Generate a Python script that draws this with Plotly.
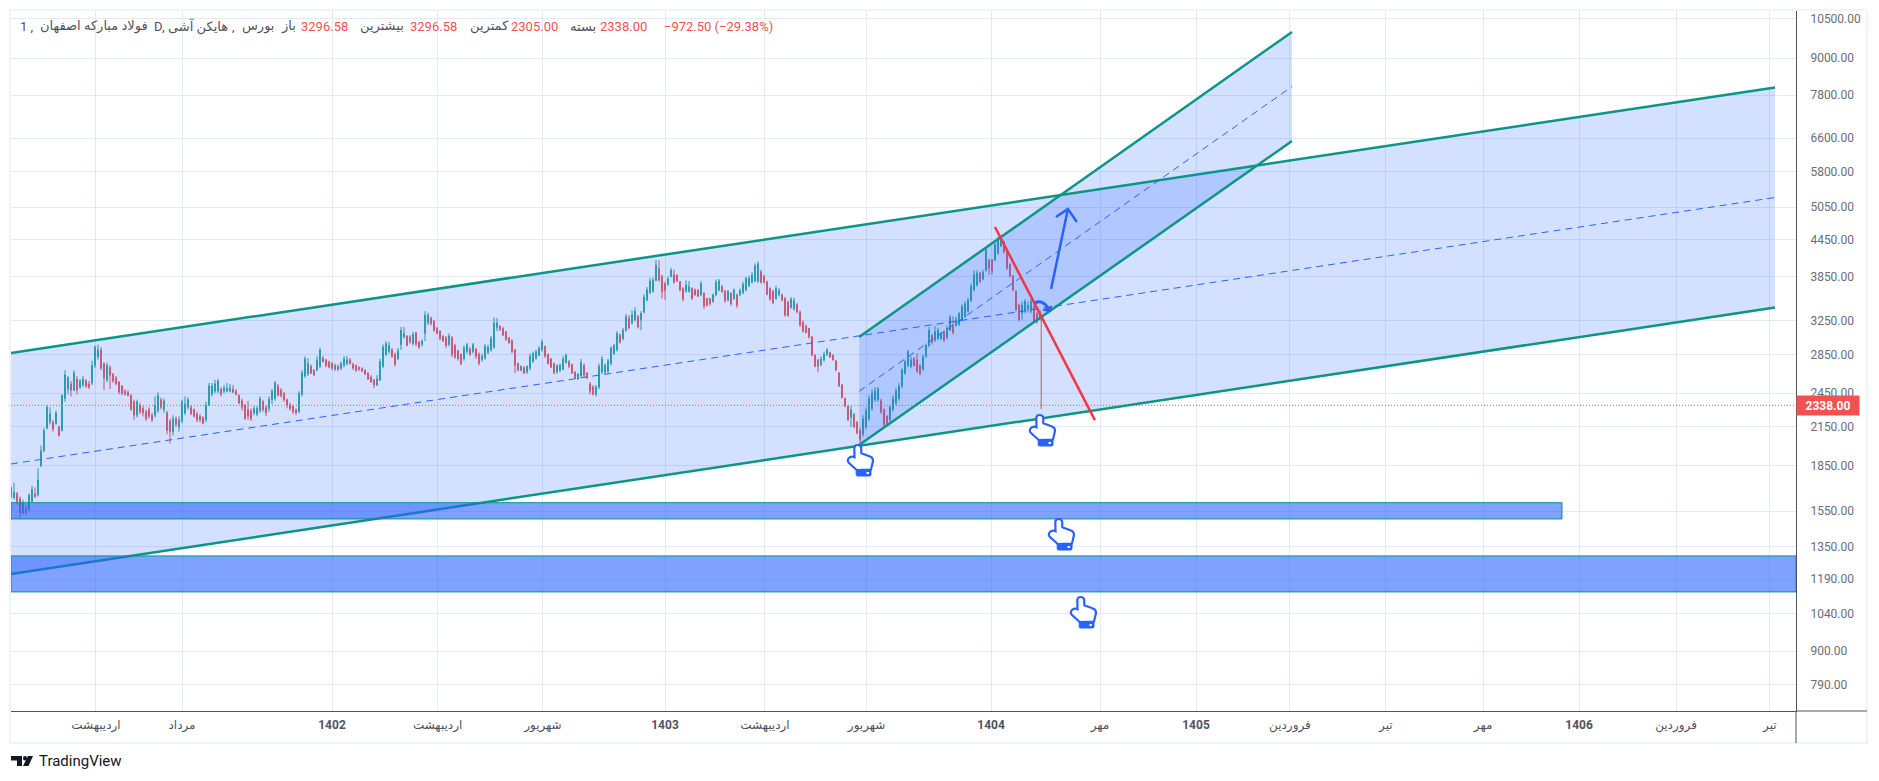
import math
import plotly.graph_objects as go

W, H = 1879, 781
L, R, T, B = 11, 1796, 11, 711

opens = [
1700,1630,1660,1630,1540,1570,1560,1610,1660,1650,
1850,1960,2140,2190,2190,2180,2150,2120,2400,2490,
2540,2480,2590,2510,2530,2570,2540,2550,2730,2820,
2900,2750,2580,2710,2640,2600,2560,2520,2470,2460,
2430,2370,2250,2340,2310,2280,2300,2250,2250,2290,
2390,2300,2270,2200,2110,2220,2150,2200,2270,2320,
2320,2300,2260,2240,2230,2210,2340,2440,2470,2470,
2490,2470,2470,2470,2490,2470,2430,2380,2340,2300,
2290,2270,2260,2290,2370,2320,2310,2390,2400,2520,
2480,2450,2390,2340,2330,2300,2280,2440,2620,2640,
2720,2680,2680,2720,2810,2790,2770,2750,2690,2720,
2700,2730,2750,2790,2740,2730,2710,2700,2680,2650,
2610,2580,2530,2580,2720,2850,2880,2900,2850,2800,
2960,3050,3060,3050,2970,3100,2990,2960,3090,3220,
3280,3240,3150,3120,3060,3040,2960,3040,2950,2890,
2850,2800,2880,2910,2880,2910,2850,2790,2810,2870,
2900,2930,3160,3180,3150,3110,3040,3010,2900,2750,
2680,2710,2660,2700,2770,2810,2840,2900,2940,2850,
2800,2750,2660,2680,2690,2760,2770,2740,2660,2590,
2620,2730,2650,2540,2510,2440,2510,2660,2660,2670,
2750,2860,2900,3070,3030,3130,3280,3220,3260,3300,
3260,3360,3520,3620,3640,3800,3980,3860,3750,3740,
3860,3880,3870,3780,3680,3640,3640,3680,3660,3660,
3590,3610,3540,3540,3500,3590,3660,3710,3640,3520,
3610,3540,3590,3590,3620,3660,3720,3770,3790,3790,
3930,3860,3780,3680,3640,3540,3590,3590,3540,3490,
3420,3400,3460,3360,3230,3180,3150,3050,2840,2790,
2740,2790,2850,2870,2840,2780,2650,2530,2400,2330,
2230,2260,2190,2120,2090,2150,2220,2310,2390,2390,
2380,2300,2240,2210,2300,2360,2400,2520,2650,2730,
2720,2800,2790,2730,2690,2830,2950,3070,3010,3030,
3030,3110,3040,3130,3180,3190,3200,3260,3300,3370,
3510,3660,3730,3910,3820,3950,4110,4110,4110,4220,
4340,4410,4240,4040,3860,3640,3450,3340,3370,3400,
3370,3430,3340,3360]
highs = [
1705,1730,1670,1640,1620,1590,1660,1710,1700,1830,
2000,2140,2340,2320,2210,2290,2160,2440,2680,2620,
2570,2680,2620,2590,2620,2590,2570,2780,2950,2960,
2930,2760,2760,2730,2650,2620,2570,2530,2490,2480,
2440,2390,2390,2360,2330,2300,2320,2270,2420,2460,
2410,2400,2290,2220,2250,2240,2240,2390,2420,2410,
2340,2310,2280,2260,2240,2370,2550,2550,2580,2590,
2510,2530,2550,2540,2530,2490,2440,2400,2350,2380,
2310,2330,2330,2420,2390,2340,2420,2490,2570,2540,
2500,2460,2400,2360,2340,2310,2470,2680,2830,2810,
2740,2690,2830,2920,2830,2800,2780,2770,2750,2740,
2770,2830,2830,2810,2760,2740,2720,2710,2690,2660,
2630,2590,2630,2800,2960,3000,2990,2920,2870,2920,
3170,3170,3070,3070,3110,3110,3000,3020,3370,3350,
3300,3260,3170,3130,3070,3060,3090,3060,2970,2900,
2860,2950,2980,2930,2980,2920,2870,2860,2970,2960,
3060,3290,3280,3190,3170,3120,3050,3020,2910,2760,
2730,2720,2730,2860,2880,2900,2940,3020,2950,2860,
2810,2760,2740,2750,2830,2860,2790,2750,2670,2650,
2800,2750,2660,2560,2530,2530,2750,2830,2750,2800,
2940,2970,3120,3090,3160,3330,3320,3380,3420,3320,
3370,3600,3700,3830,3840,4110,4110,3880,3780,3860,
3990,3960,3890,3790,3700,3800,3790,3700,3680,3670,
3790,3630,3550,3550,3610,3810,3820,3730,3660,3660,
3630,3680,3610,3680,3780,3850,3870,3920,4060,4090,
3960,3880,3790,3700,3660,3720,3690,3610,3560,3510,
3560,3550,3480,3380,3250,3200,3160,3060,2850,2800,
2830,2880,2920,2880,2850,2790,2660,2540,2410,2340,
2330,2270,2200,2140,2250,2320,2430,2490,2510,2510,
2400,2310,2250,2340,2430,2500,2550,2700,2790,2900,
2830,2820,2860,2740,2850,2970,3170,3080,3180,3160,
3110,3130,3190,3320,3300,3300,3360,3460,3500,3550,
3750,3950,3950,3930,3960,4320,4130,4130,4400,4500,
4530,4430,4260,4060,3880,3660,3470,3500,3530,3500,
3540,3480,3360,3380]
lows = [
1630,1630,1590,1505,1530,1530,1550,1600,1630,1640,
1840,1950,2130,2170,2110,2170,2070,2110,2370,2440,
2420,2470,2440,2490,2510,2500,2490,2530,2700,2790,
2680,2480,2560,2490,2550,2530,2440,2430,2430,2420,
2290,2210,2230,2260,2240,2200,2220,2190,2230,2270,
2300,2270,2090,2015,2080,2150,2110,2180,2250,2300,
2250,2230,2190,2190,2170,2190,2330,2420,2450,2450,
2420,2450,2460,2460,2450,2430,2350,2290,2210,2210,
2200,2250,2240,2270,2280,2240,2280,2350,2380,2420,
2410,2370,2310,2290,2260,2250,2270,2420,2600,2620,
2640,2620,2670,2700,2760,2710,2700,2680,2670,2670,
2680,2710,2730,2740,2680,2660,2670,2660,2630,2580,
2550,2500,2520,2570,2700,2830,2860,2810,2720,2790,
2900,3030,2940,2970,2950,2940,2910,2940,3000,3190,
3190,3110,3080,3010,2990,2920,2940,2820,2800,2780,
2730,2780,2860,2830,2860,2800,2730,2770,2790,2850,
2880,2910,3120,3120,3060,3000,2970,2860,2650,2670,
2670,2640,2640,2680,2760,2790,2830,2880,2810,2740,
2700,2640,2640,2660,2680,2750,2700,2640,2590,2580,
2610,2610,2590,2440,2430,2420,2490,2640,2640,2650,
2730,2840,2880,2970,3010,3110,3140,3200,3240,3150,
3130,3340,3500,3600,3620,3780,3780,3540,3520,3720,
3840,3750,3770,3640,3500,3620,3620,3520,3580,3560,
3570,3400,3430,3440,3480,3570,3640,3620,3480,3500,
3440,3520,3410,3570,3600,3640,3700,3750,3770,3760,
3750,3750,3580,3510,3460,3520,3570,3500,3300,3300,
3400,3380,3340,3170,3100,3090,3030,2830,2710,2660,
2720,2770,2830,2810,2780,2670,2510,2400,2320,2200,
2150,2140,2090,2020,2070,2130,2200,2290,2370,2370,
2260,2150,2160,2190,2280,2340,2380,2500,2630,2710,
2700,2720,2650,2630,2670,2810,2930,2960,2990,3010,
3010,2990,3020,3120,3080,3170,3180,3240,3280,3350,
3490,3640,3710,3760,3800,3930,3880,3880,4090,4200,
4320,4220,3960,3840,3640,3370,3240,3260,3340,3350,
3340,3220,3210,3250]
closes = [
1640,1670,1610,1540,1600,1540,1650,1690,1640,1750,
1960,2120,2320,2260,2130,2270,2080,2430,2630,2600,
2480,2650,2480,2570,2590,2520,2510,2730,2930,2900,
2700,2600,2730,2630,2570,2540,2460,2450,2440,2430,
2300,2250,2370,2280,2270,2220,2240,2210,2340,2430,
2320,2380,2120,2110,2220,2170,2210,2370,2350,2390,
2260,2240,2210,2210,2180,2340,2520,2520,2540,2570,
2440,2500,2500,2500,2460,2440,2360,2320,2220,2240,
2220,2310,2310,2400,2300,2270,2395,2470,2550,2430,
2430,2390,2340,2310,2280,2270,2450,2650,2800,2750,
2650,2630,2790,2900,2770,2730,2710,2700,2730,2690,
2750,2800,2790,2750,2700,2680,2690,2670,2640,2590,
2560,2530,2590,2770,2930,2970,2950,2830,2740,2890,
3130,3090,2950,2990,3080,2970,2930,3000,3320,3320,
3210,3130,3090,3030,3000,2950,3060,2850,2820,2800,
2750,2920,2960,2850,2960,2830,2750,2830,2940,2930,
3030,3220,3220,3140,3070,3020,2980,2880,2730,2680,
2720,2650,2720,2830,2860,2880,2920,2990,2830,2750,
2710,2650,2730,2730,2800,2840,2720,2650,2600,2640,
2760,2630,2600,2470,2440,2510,2720,2800,2730,2780,
2920,2950,3090,2990,3130,3300,3160,3320,3370,3170,
3340,3560,3660,3790,3800,4030,3800,3640,3650,3820,
3950,3770,3790,3660,3530,3730,3710,3540,3590,3570,
3750,3440,3450,3470,3590,3770,3790,3640,3510,3640,
3470,3660,3450,3650,3740,3830,3830,3880,4020,4050,
3770,3770,3600,3530,3480,3680,3650,3520,3320,3310,
3530,3510,3360,3190,3120,3100,3050,2840,2720,2720,
2800,2850,2900,2820,2790,2680,2520,2410,2330,2210,
2300,2150,2100,2050,2220,2290,2400,2450,2470,2490,
2280,2170,2170,2320,2400,2470,2520,2680,2770,2880,
2790,2730,2670,2640,2820,2950,3130,2990,3110,3130,
3090,3010,3150,3290,3100,3260,3340,3430,3470,3520,
3710,3880,3910,3780,3920,4270,3980,3940,4360,4440,
4480,4240,3980,3860,3660,3390,3260,3450,3500,3450,
3500,3240,3230,3270]
bars = list(range(len(closes)))

# Last session: open/high 3296.58, low 2305, close 2338
last_bar = 343.4
last_open, last_low, last_close = 3296.58, 2305.00, 2338.00

# Drawings (bar index, price)
wide_x = [0, 588]
wide_upper = [2865, 8031]
wide_mid = [1862, 5240]
wide_lower = [1215, 3418]
steep_x = [282.7, 427]
steep_upper = [3049, 9963]
steep_mid = [2470, 8060]
steep_lower = [2004, 6525]
zone1_x = [0, 517]
zone1_prices = [1504, 1602]
zone2_x = [0, 595]
zone2_prices = [1133, 1303]
red_x = [328, 361.3]
red_y = [4673, 2208]
arrow_x = [346.7, 352.3, 348.3, 352.3, 355.3]
arrow_y = [3673, 5012, 4858, 5012, 4765]

price_ticks = [10500, 9000, 7800, 6600, 5800, 5050, 4450, 3850, 3250, 2850,
               2450, 2150, 1850, 1550, 1350, 1190, 1040, 900, 790]
time_ticks = [28.3, 57, 107, 142.2, 177.3, 218, 251.3, 285.2, 326.7, 363,
              395, 426.3, 458.3, 490.7, 522.7, 555, 586.3]
time_labels = ["اردیبهشت", "مرداد", "<b>1402</b>", "اردیبهشت", "شهریور", "<b>1403</b>",
               "اردیبهشت", "شهریور", "<b>1404</b>", "مهر", "<b>1405</b>", "فروردین", "تیر",
               "مهر", "<b>1406</b>", "فروردین", "تیر"]

header_texts = ["1 ,", "فولاد مبارکه اصفهان", "D,", "هایکن آشی", ",", "بورس", "باز", "3296.58",
                "بیشترین", "3296.58", "کمترین", "2305.00", "بسته", "2338.00", "−972.50 (−29.38%)"]
header_px = [26, 94, 159, 198, 233, 258, 288, 324, 382, 433, 489, 534, 583, 623, 718]
RED, GRAY = "#ef5350", "#50535e"
header_colors = [GRAY]*7 + [RED, GRAY, RED, GRAY, RED, GRAY, RED, RED]

TEAL = "#0a9585"
BLUE = "#2962ff"
GRID = "#e2ebf3"
FILL = "rgba(41,98,255,0.2)"
ZONE = "rgba(41,98,255,0.6)"


def fx(px):
    return (px - L) / (R - L)


def fy(py):
    return 1 - (py - T) / (B - T)


def poly(x, y, fill, line_color=None, width=0):
    return go.Scatter(x=x, y=y, mode="lines", fill="toself", fillcolor=fill,
                      line=dict(color=line_color or "rgba(0,0,0,0)", width=width),
                      hoverinfo="skip", showlegend=False)


def line(x, y, color, width=2.5, dash="solid"):
    return go.Scatter(x=x, y=y, mode="lines", line=dict(color=color, width=width, dash=dash),
                      hoverinfo="skip", showlegend=False)


fig = go.Figure()
fig.add_trace(go.Candlestick(
    x=bars, open=opens, high=highs, low=lows, close=closes,
    increasing=dict(line=dict(color="#26a69a", width=1), fillcolor="#26a69a"),
    decreasing=dict(line=dict(color=RED, width=1), fillcolor=RED),
    whiskerwidth=0, hoverinfo="skip", showlegend=False))
fig.add_trace(line([last_bar, last_bar], [last_open, last_low], RED, 1))

fig.add_trace(poly(wide_x + wide_x[::-1], wide_upper + wide_lower[::-1], FILL))
fig.add_trace(poly(steep_x + steep_x[::-1], steep_upper + steep_lower[::-1], FILL))
for series in (wide_upper, wide_lower):
    fig.add_trace(line(wide_x, series, TEAL, 2.5))
for series in (steep_upper, steep_lower):
    fig.add_trace(line(steep_x, series, TEAL, 2.5))
fig.add_trace(line(wide_x, wide_mid, BLUE, 1, "7px,5px"))
fig.add_trace(line(steep_x, steep_mid, BLUE, 1, "7px,5px"))
for zx, zp in ((zone1_x, zone1_prices), (zone2_x, zone2_prices)):
    fig.add_trace(poly([zx[0], zx[1], zx[1], zx[0], zx[0]],
                       [zp[0], zp[0], zp[1], zp[1], zp[0]], ZONE, TEAL, 1))
fig.add_trace(line(red_x, red_y, "#f23645", 2.5))
fig.add_trace(line(arrow_x, arrow_y, BLUE, 2.5))
fig.add_trace(line([0, 595], [last_close, last_close], RED, 1, "1px,2px"))

shapes = []
# outer frame and axis extensions
shapes.append(dict(type="rect", xref="paper", yref="paper", x0=fx(10), x1=fx(1867), y0=fy(743), y1=fy(10),
                   line=dict(color="#f0f3fa", width=2), layer="below"))
shapes.append(dict(type="line", xref="paper", yref="paper", x0=fx(R), x1=fx(1867), y0=fy(B), y1=fy(B),
                   line=dict(color=GRAY, width=1)))
shapes.append(dict(type="line", xref="paper", yref="paper", x0=fx(R), x1=fx(R), y0=fy(743), y1=fy(B),
                   line=dict(color=GRAY, width=1)))

HAND = ("M -5.7 13 Q -5.5 16 -2.5 16 Q 1 16 1.2 13 L 1.3 7.7 L 10 4.5 Q 13 3.5 13 0 "
        "L 11 -8.5 L -3.3 -9 L -11.5 -1.5 Q -13.5 1.5 -10 3.8 Q -8 4.8 -5.5 3.7 Z")
CUFF = "M -3.8 -9 L 11 -9 L 11 -13.5 Q 11 -15 9.5 -15 L -2.3 -15 Q -3.8 -15 -3.8 -13.5 Z"
DOT = "M 6.5 -11 L 9 -11 L 9 -13 L 6.5 -13 Z"
for px, py in ((860, 461), (1042, 431), (1061, 535), (1083, 613)):
    base = dict(type="path", xref="paper", yref="paper", xsizemode="pixel", ysizemode="pixel",
                xanchor=fx(px), yanchor=fy(py))
    shapes.append(dict(base, path=HAND, fillcolor="white", line=dict(color=BLUE, width=2.2)))
    shapes.append(dict(base, path=CUFF, fillcolor=BLUE, line=dict(color=BLUE, width=1)))
    shapes.append(dict(base, path=DOT, fillcolor="white", line=dict(width=0)))

# curved blue arrow
cbase = dict(type="path", xref="paper", yref="paper", xsizemode="pixel", ysizemode="pixel",
             xanchor=fx(1043), yanchor=fy(306))
shapes.append(dict(cbase, path="M -8 3 Q -1 7 5 -2", line=dict(color=BLUE, width=3)))
shapes.append(dict(cbase, path="M 0 -4 L 9 0 L 7 -6 Z", fillcolor=BLUE, line=dict(color=BLUE, width=1)))

# TradingView logo
shapes.append(dict(type="path", xref="paper", yref="paper", fillcolor="#131722", line=dict(width=0),
                   path=f"M {fx(11)} {fy(756)} L {fx(22)} {fy(756)} L {fx(22)} {fy(766)} L {fx(17)} {fy(766)} "
                        f"L {fx(17)} {fy(760.5)} L {fx(11)} {fy(760.5)} Z"))
shapes.append(dict(type="circle", xref="paper", yref="paper", fillcolor="#131722", line=dict(width=0),
                   x0=fx(23), x1=fx(27), y0=fy(760.5), y1=fy(756)))
shapes.append(dict(type="path", xref="paper", yref="paper", fillcolor="#131722", line=dict(width=0),
                   path=f"M {fx(28)} {fy(756)} L {fx(33)} {fy(756)} L {fx(28.5)} {fy(766)} L {fx(23)} {fy(766)} Z"))

annotations = []
for text, px, col in zip(header_texts, header_px, header_colors):
    annotations.append(dict(text=text, xref="paper", yref="paper", x=fx(px), y=fy(26),
                            xanchor="center", yanchor="middle", showarrow=False,
                            font=dict(family="Roboto, DejaVu Sans", size=13, color=col)))
annotations.append(dict(text="<b>2338.00</b>", xref="paper", yref="y", x=fx(R), y=math.log10(last_close),
                        xanchor="left", yanchor="middle", showarrow=False, width=62, height=19,
                        bgcolor="#f05252", borderpad=0, align="center",
                        font=dict(family="Roboto", size=12, color="white")))
annotations.append(dict(text="TradingView", xref="paper", yref="paper", x=fx(36.5), y=fy(761),
                        xanchor="left", yanchor="middle", showarrow=False,
                        font=dict(family="Roboto", size=15, color="#131722")))

fig.update_layout(
    width=W, height=H, autosize=False,
    margin=dict(l=L, r=W - R, t=T, b=H - B, pad=0),
    paper_bgcolor="white", plot_bgcolor="white",
    showlegend=False, hovermode=False, boxgap=0.6,
    shapes=shapes, annotations=annotations,
    xaxis=dict(range=[0, 595], rangeslider=dict(visible=False), tickmode="array",
               tickvals=time_ticks, ticktext=time_labels, tickangle=0,
               tickfont=dict(family="Roboto, DejaVu Sans", size=12, color="#50535e"),
               showgrid=True, gridcolor=GRID, gridwidth=1, zeroline=False,
               showline=True, linecolor=GRAY, linewidth=1, ticks="", ticklabelstandoff=3),
    yaxis=dict(type="log", range=[2.8534, 4.0338], side="right", tickmode="array",
               tickvals=price_ticks, ticktext=[f"{v}.00" for v in price_ticks],
               tickfont=dict(family="Roboto", size=12, color="#6a6d78"),
               showgrid=True, gridcolor=GRID, gridwidth=1, zeroline=False,
               showline=True, linecolor=GRAY, linewidth=1, ticks="", ticklabelstandoff=11),
)

fig.write_html("out.html", config=dict(displayModeBar=False),
               post_script="document.body.style.margin='0';")
